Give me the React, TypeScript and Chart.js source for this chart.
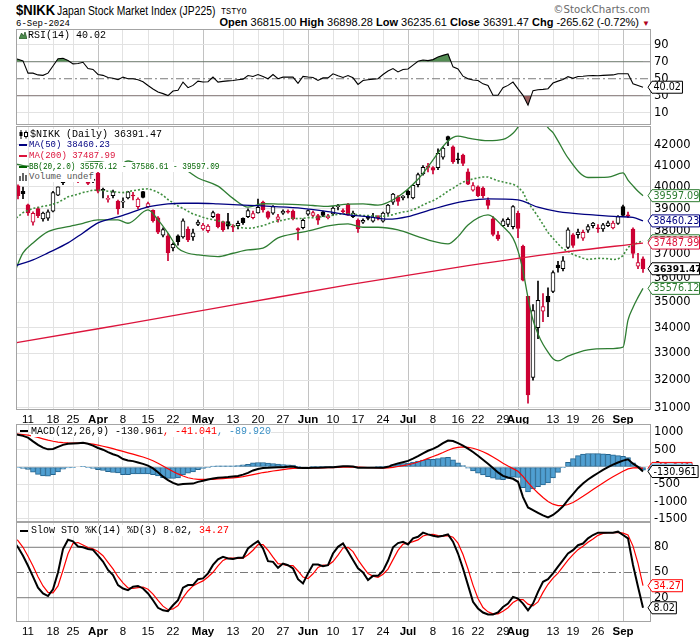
import React, { useEffect, useRef } from "react";
import { Chart, registerables } from "chart.js";

Chart.register(...registerables);

// ---------------- fonts / colours ----------------
const SANS = "'DejaVu Sans', 'Liberation Sans', sans-serif";
const ARIAL = "'Liberation Sans', Arial, sans-serif";
const MONO = "'Liberation Mono', 'DejaVu Sans Mono', monospace";
const RED = "#cc0033";
const BLACK = "#000000";
const NAVY = "#000080";
const MA200C = "#dc143c";
const GREEN = "#2e7d32";
const LEG_GREEN = "#006400";
const HIST_BLUE = "#3a8fc4";

// ---------------- data ----------------
const dates = [
  "2024-03-06","2024-03-07","2024-03-08","2024-03-11","2024-03-12","2024-03-13","2024-03-14","2024-03-15","2024-03-18","2024-03-19",
  "2024-03-21","2024-03-22","2024-03-25","2024-03-26","2024-03-27","2024-03-28","2024-03-29","2024-04-01","2024-04-02","2024-04-03",
  "2024-04-04","2024-04-05","2024-04-08","2024-04-09","2024-04-10","2024-04-11","2024-04-12","2024-04-15","2024-04-16","2024-04-17",
  "2024-04-18","2024-04-19","2024-04-22","2024-04-23","2024-04-24","2024-04-25","2024-04-26","2024-04-30","2024-05-01","2024-05-02",
  "2024-05-07","2024-05-08","2024-05-09","2024-05-10","2024-05-13","2024-05-14","2024-05-15","2024-05-16","2024-05-17","2024-05-20",
  "2024-05-21","2024-05-22","2024-05-23","2024-05-24","2024-05-27","2024-05-28","2024-05-29","2024-05-30","2024-05-31","2024-06-03",
  "2024-06-04","2024-06-05","2024-06-06","2024-06-07","2024-06-10","2024-06-11","2024-06-12","2024-06-13","2024-06-14","2024-06-17",
  "2024-06-18","2024-06-19","2024-06-20","2024-06-21","2024-06-24","2024-06-25","2024-06-26","2024-06-27","2024-06-28","2024-07-01",
  "2024-07-02","2024-07-03","2024-07-04","2024-07-05","2024-07-08","2024-07-09","2024-07-10","2024-07-11","2024-07-12","2024-07-16",
  "2024-07-17","2024-07-18","2024-07-19","2024-07-22","2024-07-23","2024-07-24","2024-07-25","2024-07-26","2024-07-29","2024-07-30",
  "2024-07-31","2024-08-01","2024-08-02","2024-08-05","2024-08-06","2024-08-07","2024-08-08","2024-08-09","2024-08-13","2024-08-14",
  "2024-08-15","2024-08-16","2024-08-19","2024-08-20","2024-08-21","2024-08-22","2024-08-23","2024-08-26","2024-08-27","2024-08-28",
  "2024-08-29","2024-08-30","2024-09-02","2024-09-03","2024-09-04","2024-09-05","2024-09-06",
];

const opens = [
  40150, 40050, 39800, 39180, 38400, 39010, 38550, 38580, 38900, 39620,
  40200, 40900, 40800, 40300, 40500, 40600, 40300, 40646, 39880, 39430,
  39600, 39350, 39300, 39500, 39600, 39100, 39780, 39100, 38930, 38600,
  37830, 37800, 37280, 37800, 37750, 38100, 37750, 38300, 38100, 38030,
  38650, 38760, 38430, 38430, 38200, 38250, 38580, 38650, 38600, 38820,
  39300, 38870, 38800, 38530, 38800, 38900, 38900, 38120, 38160, 38760,
  38700, 38700, 38870, 38600, 38770, 39100, 38900, 39200, 38650, 38500,
  38400, 38650, 38450, 38620, 38450, 38800, 39300, 39550, 39500, 39800,
  39500, 40100, 40600, 40950, 40900, 40900, 41400, 42400, 41900, 41300,
  41500, 40700, 39850, 40000, 39950, 39400, 38550, 37850, 38250, 38300,
  38200, 38800, 37350, 35250, 32100, 34000, 34650, 35250, 35450, 36550,
  36400, 37300, 37850, 37850, 37700, 38050, 38250, 38150, 38100, 38250,
  38150, 38350, 39100, 38720, 38100, 36500, 36815,
];
const highs = [
  40300, 40100, 39990, 39220, 38860, 39080, 38850, 38950, 39800, 40010,
  40823, 41087, 40900, 40500, 40980, 40650, 40500, 40697, 39950, 39600,
  39850, 39400, 39500, 39800, 39750, 39500, 39800, 39300, 38950, 38650,
  38150, 37900, 37500, 37850, 38550, 38200, 38100, 38500, 38350, 38300,
  38900, 38780, 38450, 38800, 38300, 38450, 38600, 39000, 38900, 39437,
  39350, 38900, 39150, 38750, 38950, 38950, 38950, 38150, 38550, 38950,
  38900, 38750, 38900, 38750, 39100, 39200, 39000, 39250, 38900, 38550,
  38550, 38700, 38800, 38700, 38850, 39200, 39700, 39600, 39600, 39850,
  40100, 40650, 41000, 41100, 40950, 41800, 41900, 42426, 41950, 41600,
  41550, 40850, 40200, 40050, 40000, 39500, 38650, 38000, 38550, 38600,
  39150, 38900, 37400, 35250, 34911, 35880, 35360, 35600, 36300, 36700,
  36910, 38150, 37900, 38100, 38050, 38300, 38400, 38300, 38350, 38450,
  38450, 38700, 39170, 38850, 38150, 37050, 36898.28,
];
const lows = [
  39950, 39450, 39460, 38700, 38270, 38600, 38450, 38480, 38860, 39600,
  40100, 40700, 40400, 40200, 40400, 40100, 40200, 39720, 39500, 39300,
  39500, 38760, 39050, 39450, 39400, 39000, 39500, 39050, 38400, 37900,
  37750, 36733, 37150, 37400, 37700, 37550, 37600, 38250, 38050, 37950,
  38600, 38150, 38000, 38100, 37990, 38100, 38300, 38600, 38550, 38800,
  38850, 38550, 38750, 38400, 38750, 38800, 38500, 37620, 38100, 38700,
  38650, 38300, 38650, 38550, 38700, 38950, 38800, 38700, 38600, 37950,
  38350, 38500, 38400, 38500, 38400, 38750, 39200, 39150, 39400, 39500,
  39450, 40000, 40550, 40700, 40600, 40800, 41300, 41950, 41100, 41100,
  41000, 40100, 39800, 39550, 39500, 39000, 37800, 37600, 38200, 38200,
  38100, 37725, 35880, 31156, 32000, 33565, 34230, 34430, 35400, 36250,
  36300, 37250, 37300, 37700, 37600, 37950, 38150, 37950, 38000, 38200,
  38100, 38300, 38650, 38600, 36850, 36400, 36235.61,
];
const closes = [
  40090, 39598, 39688, 38820, 38797, 38695, 38807, 38870, 39740, 40003,
  40815, 40888, 40414, 40398, 40762, 40168, 40369, 39803, 39838, 39451,
  39773, 38992, 39347, 39773, 39581, 39442, 39523, 39232, 38471, 37962,
  38079, 37068, 37438, 37552, 38460, 37628, 37934, 38405, 38274, 38236,
  38835, 38202, 38073, 38229, 38179, 38356, 38385, 38920, 38787, 39069,
  38946, 38617, 39103, 38646, 38900, 38855, 38556, 38054, 38487, 38923,
  38837, 38490, 38703, 38683, 39038, 39134, 38876, 38720, 38814, 38102,
  38482, 38570, 38633, 38596, 38804, 39173, 39667, 39341, 39583, 39631,
  40074, 40580, 40913, 40912, 40780, 41580, 41831, 42224, 41190, 41275,
  41097, 40126, 40063, 39599, 39594, 39154, 37869, 37667, 38468, 38525,
  39102, 38126, 35910, 31458, 34675, 35090, 34831, 35025, 36232, 36442,
  36727, 38063, 37389, 37967, 37951, 38211, 38364, 38110, 38288, 38372,
  38363, 38648, 38700, 38686, 37047, 36657.09, 36391.47,
];

// overlays: [bar index, value]
const ma50Pts = [
  [0, 36460], [1, 36553], [4, 36765], [7, 37063], [11, 37494], [14, 37929], [17, 38370], [21, 38637],
  [24, 38860], [27, 39085], [31, 39221], [34, 39253], [37, 39253], [41, 39221], [45, 39176], [50, 39131],
  [57, 39040], [63, 38874], [67, 38726], [71, 38650], [75, 38535], [79, 38650], [83, 38919], [87, 39176],
  [91, 39370], [95, 39448], [101, 39402], [105, 39072], [109, 38874], [116, 38726], [121, 38650], [124, 38620],
  [126, 38460.23],
];
const ma200Pts = [
  [0, 33390], [1, 33420], [23, 34160], [45, 34930], [67, 35720], [91, 36520], [109, 37065], [126, 37487.99],
];
const bbMid = [
  38480, 38652, 38830, 38928, 39023, 39060, 39115, 39151, 39213, 39290,
  39413, 39544, 39610, 39668, 39744, 39792, 39852, 39847, 39833, 39801,
  39785, 39754, 39737, 39785, 39824, 39861, 39897, 39915, 39852, 39750,
  39613, 39422, 39273, 39131, 39016, 38889, 38767, 38697, 38619, 38559,
  38512, 38472, 38408, 38331, 38261, 38207, 38150, 38134, 38150, 38205,
  38249, 38326, 38410, 38464, 38486, 38548, 38579, 38561, 38572, 38606,
  38606, 38621, 38652, 38675, 38718, 38757, 38781, 38771, 38773, 38724,
  38701, 38699, 38675, 38673, 38668, 38684, 38739, 38804, 38858, 38894,
  38956, 39060, 39171, 39282, 39369, 39492, 39639, 39815, 39933, 40092,
  40223, 40301, 40372, 40422, 40462, 40461, 40371, 40287, 40231, 40176,
  40127, 40005, 39755, 39282, 38977, 38652, 38302, 37942, 37694, 37453,
  37234, 37131, 36997, 36916, 36834, 36786, 36811, 36833, 36824, 36817,
  36780, 36806, 36945, 37307, 37425, 37504, 37586.61,
];
const bbUpperPts = [
  [0, 41100], [2, 41000], [4, 40950], [7, 40900], [11, 40950], [14, 41133], [17, 41191],
  [21, 41005], [23, 41215], [27, 40880], [29, 40997], [31, 40927], [33, 40995], [35, 40729], [37, 40416],
  [41, 40038], [44, 39473], [47, 39076], [50, 39231], [53, 39217], [57, 39193], [60, 39151], [63, 39113],
  [67, 39217], [70, 39224], [73, 39168], [77, 39547], [81, 40353], [83, 40940], [87, 42180], [89, 42417],
  [91, 42321], [95, 42196], [98, 42256], [100, 42554], [101, 42860], [102, 43210], [103, 43364], [104, 43654],
  [105, 43554], [106, 43254], [107, 42834], [108, 42588], [109, 42186], [111, 41362], [115, 40438], [119, 40454],
  [122, 40650], [123, 40320], [124, 40050], [125, 39800], [126, 39597.09],
];
const bbLowerPts = [
  [0, 36000], [1, 36600], [2, 37063], [4, 37494], [7, 37985], [11, 38206], [14, 38355], [17, 38503],
  [21, 38503], [23, 38355], [27, 38950], [29, 38503], [31, 37917], [33, 37267], [35, 37049], [37, 36978],
  [41, 36906], [44, 37049], [47, 37192], [50, 37267], [53, 37711], [57, 37929], [60, 38061], [63, 38237],
  [67, 38325], [70, 38178], [73, 38178], [77, 38061], [81, 37767], [83, 37624], [87, 37450], [89, 37767],
  [91, 38281], [95, 38726], [98, 38206], [100, 37700], [101, 37150], [102, 36300], [103, 35200], [104, 34300],
  [105, 33750], [106, 33350], [107, 33050], [108, 32800], [109, 32720], [111, 32900], [115, 33134], [119, 33180],
  [122, 33240], [123, 34294], [124, 34800], [125, 35208], [126, 35576.12],
];

const rsi = [
  74, 73, 71, 56.6, 56.6, 54.5, 54, 56.6, 65, 73.5,
  74, 71.5, 67.5, 68, 69.4, 62, 61, 55, 54, 51.5,
  50.5, 48.8, 51.9, 50, 50, 48.8, 46.5, 42, 38, 34.4,
  32.5, 30.2, 35.6, 36.4, 46.1, 39.5, 42.2, 47.2, 46.1, 46.5,
  51.9, 46.1, 46.9, 47.5, 48, 48.8, 49.5, 53.8, 52.7, 55,
  52.5, 50, 55, 50, 51.9, 51.9, 51.9, 44.5, 52.7, 52,
  51.5, 48, 51, 51, 55.8, 53.5, 51.5, 53.8, 51.1, 43.4,
  48, 48.8, 49.5, 50, 55, 59, 62, 58, 60.8, 61.5,
  66, 70.5, 72, 71.3, 72.5, 75.5, 77.5, 79.1, 64, 61.6,
  53, 50, 48.5, 48, 44, 42, 30.5, 30.5, 39.5, 42.2,
  46.1, 38, 30.5, 18.9, 36, 37, 37.5, 38.3, 44.9, 47.2,
  49, 52.5, 50.5, 52.7, 53, 53.5, 53.8, 53.5, 54, 54.2,
  54.5, 55.8, 55.8, 55.8, 44, 42, 40.02,
];
const macd = [
  980, 930, 900, 850, 740, 640, 560, 510, 520, 580,
  640, 670, 680, 690, 700, 670, 620, 550, 500, 430,
  370, 320, 230, 190, 170, 130, 90, 40, -40, -150,
  -280, -380, -457, -514, -490, -485, -480, -430, -400, -361,
  -330, -312, -300, -290, -275, -260, -220, -170, -100, -60,
  -30, -25, -15, -10, -6, 5, 14, -20, -30, -30,
  -23, -20, -15, -10, -6, 10, 20, 20, 14, -20,
  -23, -25, -25, -23, -20, 4, 61, 104, 139, 176,
  241, 314, 394, 469, 524, 599, 689, 766, 749, 689,
  619, 533, 432, 323, 211, 96, -31, -157, -258, -304,
  -341, -427, -870, -1170, -1245, -1323, -1397, -1457, -1388, -1270,
  -1136, -953, -783, -612, -475, -361, -264, -173, -83, -3,
  69, 130, 185, 221, 97, 3, -130.961,
];
const macdSignal = [
  955, 950, 940, 920, 890, 855, 815, 775, 745, 720,
  705, 695, 690, 690, 690, 680, 660, 630, 600, 565,
  530, 490, 450, 410, 370, 330, 290, 240, 180, 110,
  30, -50, -130, -200, -260, -310, -340, -355, -360, -360,
  -355, -345, -335, -325, -312, -300, -280, -250, -220, -190,
  -160, -140, -115, -95, -75, -55, -40, -30, -28, -27,
  -26, -25, -24, -22, -18, -12, -6, -3, -1, -6,
  -12, -18, -22, -25, -30, -26, -9, 14, 39, 66,
  101, 144, 194, 249, 304, 359, 419, 486, 539, 569,
  579, 570, 542, 498, 441, 372, 291, 202, 110, 27,
  -47, -123, -272, -452, -610, -753, -882, -997, -1075, -1114,
  -1118, -1085, -1025, -942, -849, -751, -654, -558, -463, -371,
  -283, -200, -123, -54, -24, -19, -41.041,
];
const macdHist = [
  25, -20, -40, -70, -150, -215, -255, -265, -225, -140,
  -65, -25, -10, 0, 10, -10, -40, -80, -100, -135,
  -160, -170, -220, -220, -200, -200, -200, -200, -220, -260,
  -310, -330, -327, -314, -230, -175, -140, -75, -40, -1,
  25, 33, 35, 35, 37, 40, 60, 80, 120, 130,
  130, 115, 100, 85, 69, 60, 54, 10, -2, -3,
  3, 5, 9, 12, 12, 22, 26, 23, 15, -14,
  -11, -7, -3, 2, 10, 30, 70, 90, 100, 110,
  140, 170, 200, 220, 220, 240, 270, 280, 210, 120,
  40, -37, -110, -175, -230, -276, -322, -359, -368, -331,
  -294, -304, -598, -718, -635, -570, -515, -460, -313, -156,
  -18, 132, 242, 330, 374, 390, 390, 385, 380, 368,
  352, 330, 308, 275, 121, 22, -89.92,
];
const stoK = [
  88, 80, 70, 58, 45, 32, 25, 22, 30, 50,
  78, 89, 87, 81, 80, 78, 77, 70, 63, 53,
  47, 35, 31, 29, 33, 34, 31, 25, 17, 8,
  5, 4, 11, 17, 32, 35, 35, 42, 43, 49,
  59, 65.6, 68.7, 66.7, 66, 67.5, 67.5, 78.6, 83.4, 87.4,
  78.6, 63.5, 62.7, 55.6, 60.7, 58.7, 54.8, 42, 37, 49,
  59.6, 59.6, 57.6, 58.7, 72.6, 80.6, 84.5, 75, 65, 55,
  50, 41, 46, 46, 52, 64, 80, 85, 86.5, 83.4,
  90.6, 92.5, 97.4, 95.4, 93.8, 92.5, 93.8, 95.4, 86.7, 72.6,
  54.8, 35, 15.2, 7.2, 2.4, 0, 0, 2.4, 9, 13,
  21, 19, 13, 5, 13, 27, 39, 42, 49, 57,
  64.7, 72.6, 76.6, 82.5, 84.5, 90.6, 94.6, 97.4, 97.4, 97.4,
  97.4, 98.6, 94.6, 90.6, 58.9, 33.1, 8.02,
];
const stoD = [
  92, 88, 80, 69.3, 57.7, 45, 34, 26.3, 25.7, 34,
  52.7, 72.3, 84.7, 85.7, 82.7, 79.7, 78.3, 75, 70, 62,
  54.3, 45, 37.7, 31.7, 31, 32, 32.7, 30, 24.3, 16.7,
  10, 5.7, 6.7, 10.7, 20, 28, 34, 37.3, 40, 44.7,
  50.3, 57.9, 64.4, 67, 67.1, 66.7, 67, 71.2, 76.5, 83.1,
  83.1, 76.5, 68.3, 60.6, 59.7, 58.3, 58.1, 51.8, 44.6, 42.7,
  48.5, 56.1, 58.9, 58.6, 63, 70.6, 79.2, 80, 74.8, 65,
  56.7, 48.7, 45.7, 44.3, 48, 54, 65.3, 76.3, 83.8, 85,
  86.8, 88.8, 93.5, 95.1, 95.5, 93.9, 93.4, 93.9, 92, 84.9,
  71.4, 54.1, 35, 19.1, 8.3, 3.2, 0.8, 0.8, 3.8, 8.1,
  14.3, 17.7, 17.7, 12.3, 10.3, 15, 26.3, 36, 43.3, 49.3,
  56.9, 64.8, 71.3, 77.2, 81.2, 85.9, 89.9, 94.2, 96.5, 97.4,
  97.4, 97.8, 96.9, 94.6, 81.4, 60.9, 34.27,
];

const tickDates = [
  "2024-03-11", "2024-03-18", "2024-03-25", "2024-04-01", "2024-04-08", "2024-04-15", "2024-04-22",
  "2024-05-01", "2024-05-13", "2024-05-20", "2024-05-27", "2024-06-03", "2024-06-10", "2024-06-17",
  "2024-06-24", "2024-07-01", "2024-07-08", "2024-07-16", "2024-07-22", "2024-07-29", "2024-08-01",
  "2024-08-13", "2024-08-19", "2024-08-26", "2024-09-02",
];
const tickLabels = [
  "11", "18", "25", "Apr", "8", "15", "22", "May", "13", "20", "27", "Jun", "10", "17",
  "24", "Jul", "8", "16", "22", "29", "Aug", "13", "19", "26", "Sep",
];
const monthLabels = ["Apr", "May", "Jun", "Jul", "Aug", "Sep"];

const priceTicks = [31000, 32000, 33000, 34000, 35000, 36000, 37000, 38000, 39000, 40000, 41000, 42000];
const rsiTicks = [10, 30, 50, 70, 90];
const rsiLevels = [70, 50, 30];
const macdTicks = [1000, 500, 0, -500, -1000, -1500];
const stoTicks = [20, 50, 80];
const stoLevels = [80, 50, 20];

// ---------------- helpers ----------------
const X_MIN = 0.6;
const X_MAX = 127.6;
const N = dates.length;
const last = (a: number[]) => a[a.length - 1];
const lastPt = (a: number[][]) => a[a.length - 1][1];
const tickIdx = tickDates.map((d) => dates.indexOf(d));
const labelAt = new Map<number, string>(tickIdx.map((v, k) => [v, tickLabels[k]]));
const isMonth = (v: any) => monthLabels.includes(labelAt.get(v) || "");
const series = (a: number[]) => a.map((y, i) => ({ x: i, y }));
const pts = (a: number[][]) => a.map(([x, y]) => ({ x, y }));
const levelLine = (y: number, dash: number[]) => ({
  type: "line",
  data: [{ x: X_MIN, y }, { x: X_MAX, y }],
  borderColor: "#7a7a7a",
  borderWidth: 1,
  borderDash: dash,
  pointRadius: 0,
  fill: false,
  order: 5,
});

function makeX(showLabels: boolean) {
  return {
    type: "linear",
    min: X_MIN,
    max: X_MAX,
    offset: false,
    bounds: "data",
    afterBuildTicks: (s: any) => {
      s.ticks = tickIdx.map((v) => ({ value: v }));
    },
    afterFit: (s: any) => {
      s.height = showLabels ? 17 : 0;
      s.paddingLeft = 0;
      s.paddingRight = 0;
    },
    grid: {
      offset: false,
      drawTicks: false,
      lineWidth: 1,
      color: (c: any) => (isMonth(c.tick && c.tick.value) ? "#c2c2c2" : "#e2e2e2"),
    },
    border: { display: false },
    ticks: {
      display: showLabels,
      autoSkip: false,
      maxRotation: 0,
      minRotation: 0,
      padding: 3,
      color: "#000",
      font: (c: any) => ({
        family: ARIAL,
        size: 11.5,
        weight: isMonth(c.tick && c.tick.value) ? "bold" : "normal",
      }),
      callback: (v: any) => labelAt.get(v) || "",
    },
  };
}

function makeY(type: string, min: number, max: number, ticks: number[], gridColor: (v: number) => string) {
  return {
    type,
    position: "right",
    min,
    max,
    offset: false,
    bounds: "data",
    beginAtZero: false,
    afterBuildTicks: (s: any) => {
      s.ticks = ticks.map((v) => ({ value: v }));
    },
    afterFit: (s: any) => {
      s.width = 49;
      s.paddingTop = 0;
      s.paddingBottom = 0;
    },
    grid: {
      drawTicks: false,
      lineWidth: 1,
      color: (c: any) => gridColor(c.tick && c.tick.value),
    },
    border: { display: false },
    ticks: {
      autoSkip: false,
      padding: 3,
      color: "#000",
      font: { family: SANS, size: 11.5 },
      callback: (v: any) => String(v),
    },
  };
}

type Tag = { value: number; text: string; color: string; bold?: boolean };

function drawTag(ctx: CanvasRenderingContext2D, x: number, y: number, t: Tag) {
  ctx.save();
  ctx.font = `${t.bold ? "bold 9.2px" : "9.6px"} ${SANS}`;
  const w = ctx.measureText(t.text).width;
  const h = 12;
  const x1 = x + 4;
  const x2 = Math.min(x1 + w + 3, 699.5);
  ctx.beginPath();
  ctx.moveTo(x, y);
  ctx.lineTo(x1, y - h / 2);
  ctx.lineTo(x2, y - h / 2);
  ctx.lineTo(x2, y + h / 2);
  ctx.lineTo(x1, y + h / 2);
  ctx.closePath();
  ctx.fillStyle = "#fff";
  ctx.fill();
  ctx.strokeStyle = t.color;
  ctx.lineWidth = 1;
  ctx.stroke();
  ctx.fillStyle = t.color;
  ctx.textAlign = "left";
  ctx.textBaseline = "middle";
  ctx.fillText(t.text, x1 + 1.5, y + 0.5);
  ctx.restore();
}

function panelPlugin(tags: Tag[]) {
  return {
    id: "panelDeco",
    afterDraw(chart: any) {
      const { ctx, chartArea: a } = chart;
      ctx.save();
      ctx.strokeStyle = "#a4a4a4";
      ctx.lineWidth = 1;
      ctx.strokeRect(a.left + 0.5, a.top + 0.5, a.right - a.left - 1, a.bottom - a.top - 1);
      ctx.restore();
      const ys = chart.scales.y;
      tags.forEach((t) => drawTag(ctx, 648, ys.getPixelForValue(t.value), t));
    },
  };
}

function baseOptions(y: any, showX: boolean) {
  return {
    responsive: false,
    maintainAspectRatio: false,
    animation: false,
    events: [],
    layout: { padding: { left: 16, right: 0, top: 0, bottom: 0 } },
    plugins: { legend: { display: false }, tooltip: { enabled: false }, title: { display: false } },
    elements: { point: { radius: 0 }, line: { tension: 0 } },
    scales: { x: makeX(showX), y },
  };
}

// ---------------- component ----------------
export default function App() {
  const rsiRef = useRef<HTMLCanvasElement>(null);
  const mainRef = useRef<HTMLCanvasElement>(null);
  const macdRef = useRef<HTMLCanvasElement>(null);
  const stoRef = useRef<HTMLCanvasElement>(null);

  useEffect(() => {
    Chart.defaults.font.family = SANS;
    const charts: Chart[] = [];

    // RSI
    charts.push(
      new Chart(rsiRef.current as HTMLCanvasElement, {
        type: "line",
        data: {
          datasets: [
            {
              data: series(rsi),
              borderColor: "#000",
              borderWidth: 1.1,
              pointRadius: 0,
              fill: { target: { value: 70 }, above: "rgba(74,134,74,0.95)", below: "rgba(0,0,0,0)" },
              order: 0,
            },
            {
              data: series(rsi),
              borderColor: "rgba(0,0,0,0)",
              borderWidth: 0,
              pointRadius: 0,
              fill: { target: { value: 30 }, above: "rgba(0,0,0,0)", below: "rgba(150,88,88,0.95)" },
              order: 1,
            },
            ...rsiLevels.map((l) => levelLine(l, l === 50 ? [8, 3, 2, 3] : [])),
          ] as any,
        },
        options: baseOptions(
          makeY("linear", -4.4, 108.5, rsiTicks, (v) => (v === 10 || v === 90 ? "#e2e2e2" : "rgba(0,0,0,0)")),
          false
        ) as any,
        plugins: [panelPlugin([{ value: last(rsi), text: last(rsi).toFixed(2), color: BLACK }])],
      })
    );

    // price panel
    const candleColor = closes.map((c, i) => (i > 0 && c < closes[i - 1] ? RED : BLACK));
    const bodyFill = closes.map((c, i) => (c < opens[i] ? candleColor[i] : "#ffffff"));
    charts.push(
      new Chart(mainRef.current as HTMLCanvasElement, {
        type: "line",
        data: {
          datasets: [
            { data: pts(ma200Pts), borderColor: MA200C, borderWidth: 1.3, pointRadius: 0, cubicInterpolationMode: "monotone", order: 0 },
            { data: pts(ma50Pts), borderColor: NAVY, borderWidth: 1.3, pointRadius: 0, cubicInterpolationMode: "monotone", order: 0 },
            { data: pts(bbUpperPts), borderColor: GREEN, borderWidth: 1.3, pointRadius: 0, cubicInterpolationMode: "monotone", order: 0 },
            { data: pts(bbLowerPts), borderColor: GREEN, borderWidth: 1.3, pointRadius: 0, cubicInterpolationMode: "monotone", order: 0 },
            { data: series(bbMid), borderColor: "#3f8f3f", borderWidth: 1.6, borderDash: [2, 2], pointRadius: 0, order: 0 },
            {
              type: "bar",
              data: dates.map((_, i) => ({ x: i, y: [Math.min(opens[i], closes[i]), Math.max(opens[i], closes[i])] })),
              backgroundColor: bodyFill,
              borderColor: candleColor,
              borderWidth: 1,
              borderSkipped: false,
              grouped: false,
              barPercentage: 1,
              categoryPercentage: 1,
              maxBarThickness: 4,
              minBarLength: 1,
              clip: 0,
              order: 1,
            },
            {
              type: "bar",
              data: dates.map((_, i) => ({ x: i, y: [lows[i], highs[i]] })),
              backgroundColor: candleColor,
              borderWidth: 0,
              grouped: false,
              barPercentage: 1,
              categoryPercentage: 1,
              maxBarThickness: 1,
              clip: 0,
              order: 2,
            },
          ] as any,
        },
        options: baseOptions(makeY("logarithmic", 30912, 42917, priceTicks, () => "#e2e2e2"), true) as any,
        plugins: [
          panelPlugin([
            { value: last(bbMid), text: last(bbMid).toFixed(2), color: GREEN },
            { value: lastPt(bbUpperPts), text: lastPt(bbUpperPts).toFixed(2), color: GREEN },
            { value: lastPt(ma50Pts), text: lastPt(ma50Pts).toFixed(2), color: NAVY },
            { value: lastPt(ma200Pts), text: lastPt(ma200Pts).toFixed(2), color: MA200C },
            { value: lastPt(bbLowerPts), text: lastPt(bbLowerPts).toFixed(2), color: GREEN },
            { value: last(closes), text: last(closes).toFixed(2), color: BLACK, bold: true },
          ]),
        ],
      })
    );

    // MACD
    charts.push(
      new Chart(macdRef.current as HTMLCanvasElement, {
        type: "line",
        data: {
          datasets: [
            {
              type: "bar",
              data: series(macdHist),
              backgroundColor: "#4f9fd2",
              borderColor: "#23648f",
              borderWidth: 1,
              borderSkipped: false,
              grouped: false,
              barPercentage: 1,
              categoryPercentage: 1,
              maxBarThickness: 5,
              clip: 0,
              order: 3,
            },
            { data: series(macdSignal), borderColor: "#ff0000", borderWidth: 1.2, pointRadius: 0, order: 1 },
            { data: series(macd), borderColor: "#000", borderWidth: 2, pointRadius: 0, order: 0 },
          ] as any,
        },
        options: baseOptions(makeY("linear", -1590, 1243, macdTicks, () => "#e2e2e2"), false) as any,
        plugins: [
          panelPlugin([
            { value: last(macdSignal), text: last(macdSignal).toFixed(3), color: "#ff0000" },
            { value: last(macdHist), text: last(macdHist).toFixed(3), color: HIST_BLUE },
            { value: last(macd), text: last(macd).toFixed(3), color: BLACK },
          ]),
        ],
      })
    );

    // Slow stochastic
    charts.push(
      new Chart(stoRef.current as HTMLCanvasElement, {
        type: "line",
        data: {
          datasets: [
            ...stoLevels.map((l) => levelLine(l, l === 50 ? [8, 3, 2, 3] : [])),
            { data: series(stoD), borderColor: "#ff0000", borderWidth: 1.2, pointRadius: 0, order: 1 },
            { data: series(stoK), borderColor: "#000", borderWidth: 2, pointRadius: 0, order: 0 },
          ] as any,
        },
        options: baseOptions(makeY("linear", -8.9, 110.1, stoTicks, () => "rgba(0,0,0,0)"), true) as any,
        plugins: [
          panelPlugin([
            { value: last(stoD), text: last(stoD).toFixed(2), color: "#ff0000" },
            { value: last(stoK), text: last(stoK).toFixed(2), color: BLACK },
          ]),
        ],
      })
    );

    return () => charts.forEach((c) => c.destroy());
  }, []);

  const prevClose = closes[N - 2];
  const lastClose = closes[N - 1];
  const chg = lastClose - prevClose;
  const pct = (chg / prevClose) * 100;

  const abs = (left: number, top: number, font: string, color = "#000"): React.CSSProperties => ({
    position: "absolute",
    left,
    top,
    font,
    lineHeight: 1,
    color,
    whiteSpace: "pre",
  });
  const squeeze = (k: number): React.CSSProperties => ({ transform: `scaleX(${k})`, transformOrigin: "0 0" });
  const bg: React.CSSProperties = { background: "#fff" };
  const dash = (color: string): React.CSSProperties => ({
    position: "absolute",
    width: 8,
    height: 2,
    background: color,
  });

  return (
    <div style={{ position: "absolute", left: 0, top: 0, width: 700, height: 639, background: "#fff", overflow: "hidden" }}>
      <canvas ref={rsiRef} width={700} height={96} style={{ position: "absolute", left: 0, top: 29, width: 700, height: 96 }} />
      <canvas ref={mainRef} width={700} height={301} style={{ position: "absolute", left: 0, top: 126, width: 700, height: 301 }} />
      <canvas ref={macdRef} width={700} height={98} style={{ position: "absolute", left: 0, top: 424, width: 700, height: 98 }} />
      <canvas ref={stoRef} width={700} height={117} style={{ position: "absolute", left: 0, top: 522, width: 700, height: 117 }} />

      {/* header */}
      <div style={{ ...abs(16, 2.5, `bold 14.5px ${ARIAL}`), ...squeeze(0.9) }}>$NIKK</div>
      <div style={{ ...abs(57, 4.6, `12px ${ARIAL}`), ...squeeze(0.86) }}>Japan Stock Market Index (JP225)</div>
      <div style={abs(221, 8.2, `8.5px ${MONO}`)}>TSTYO</div>
      <div style={{ ...abs(0, 4.6, `10.2px ${SANS}`, "#6a6a6a"), left: undefined, right: 50, textAlign: "right" }}>©StockCharts.com</div>
      <div style={abs(16, 19.8, `9px ${MONO}`)}>6-Sep-2024</div>
      <div style={{ ...abs(0, 17.2, `11px ${ARIAL}`), left: undefined, right: 50, textAlign: "right" }}>
        <b>Open</b> {opens[N - 1].toFixed(2)} <b>High</b> {highs[N - 1].toFixed(2)} <b>Low</b> {lows[N - 1].toFixed(2)}{" "}
        <b>Close</b> {lastClose.toFixed(2)} <b>Chg</b> {chg.toFixed(2)} ({pct.toFixed(2)}%){" "}
        <span style={{ color: "#b00020", fontSize: 8 }}>▼</span>
      </div>

      {/* RSI legend */}
      <svg style={{ position: "absolute", left: 19, top: 31 }} width="8" height="8" viewBox="0 0 8 8">
        <polygon points="0,8 2.5,2 4.5,5 6,1 8,8" fill="#4e8c4e" stroke="#2d5d2d" strokeWidth="0.8" />
      </svg>
      <div style={abs(28, 30.9, `10px ${MONO}`)}>RSI(14) {last(rsi).toFixed(2)}</div>

      {/* price legend */}
      <svg style={{ position: "absolute", left: 19, top: 130 }} width="10" height="9" viewBox="0 0 10 9">
        <line x1="2" y1="0" x2="2" y2="9" stroke="#000" strokeWidth="1" />
        <rect x="0.5" y="2" width="3" height="4" fill="#000" />
        <line x1="7" y1="0.5" x2="7" y2="8.5" stroke="#000" strokeWidth="1" />
        <rect x="5.5" y="2.5" width="3" height="4" fill="#fff" stroke="#000" strokeWidth="1" />
      </svg>
      <div style={abs(30, 129.6, `10px ${MONO}`)}><span style={bg}>$NIKK (Daily) {lastClose.toFixed(2)}</span></div>
      <div style={{ ...dash(NAVY), left: 19, top: 144 }} />
      <div style={abs(29, 140.9, `9px ${MONO}`, NAVY)}><span style={bg}>MA(50) {lastPt(ma50Pts).toFixed(2)}</span></div>
      <div style={{ ...dash(MA200C), left: 19, top: 155 }} />
      <div style={abs(29, 151.9, `9px ${MONO}`, MA200C)}><span style={bg}>MA(200) {lastPt(ma200Pts).toFixed(2)}</span></div>
      <div style={{ ...dash(LEG_GREEN), left: 19, top: 166 }} />
      <div style={{ ...abs(29, 162.9, `9px ${MONO}`, LEG_GREEN), ...squeeze(0.86) }}>
        <span style={bg}>
          BB(20,2.0) {lastPt(bbLowerPts).toFixed(2)} - {last(bbMid).toFixed(2)} - {lastPt(bbUpperPts).toFixed(2)}
        </span>
      </div>
      <svg style={{ position: "absolute", left: 19, top: 173 }} width="9" height="8" viewBox="0 0 9 8">
        <rect x="0" y="3" width="2" height="5" fill="#666" />
        <rect x="3" y="0" width="2" height="8" fill="#666" />
        <rect x="6" y="2" width="2" height="6" fill="#666" />
      </svg>
      <div style={abs(29, 173.4, `9px ${MONO}`, "#555")}><span style={bg}>Volume undef</span></div>

      {/* MACD legend */}
      <div style={{ ...dash("#000"), left: 20, top: 430 }} />
      <div style={abs(31, 426.6, `10px ${MONO}`)}>
        <span style={bg}>
          MACD(12,26,9) {last(macd).toFixed(3)}
          <span style={{ color: "#ff0000" }}>, {last(macdSignal).toFixed(3)}</span>
          <span style={{ color: HIST_BLUE }}>, {last(macdHist).toFixed(3)}</span>
        </span>
      </div>

      {/* STO legend */}
      <div style={{ ...dash("#000"), left: 20, top: 530 }} />
      <div style={abs(31, 526.3, `10px ${MONO}`)}>
        <span style={bg}>
          Slow STO %K(14) %D(3) {last(stoK).toFixed(2)}, <span style={{ color: "#ff0000" }}>{last(stoD).toFixed(2)}</span>
        </span>
      </div>
    </div>
  );
}
